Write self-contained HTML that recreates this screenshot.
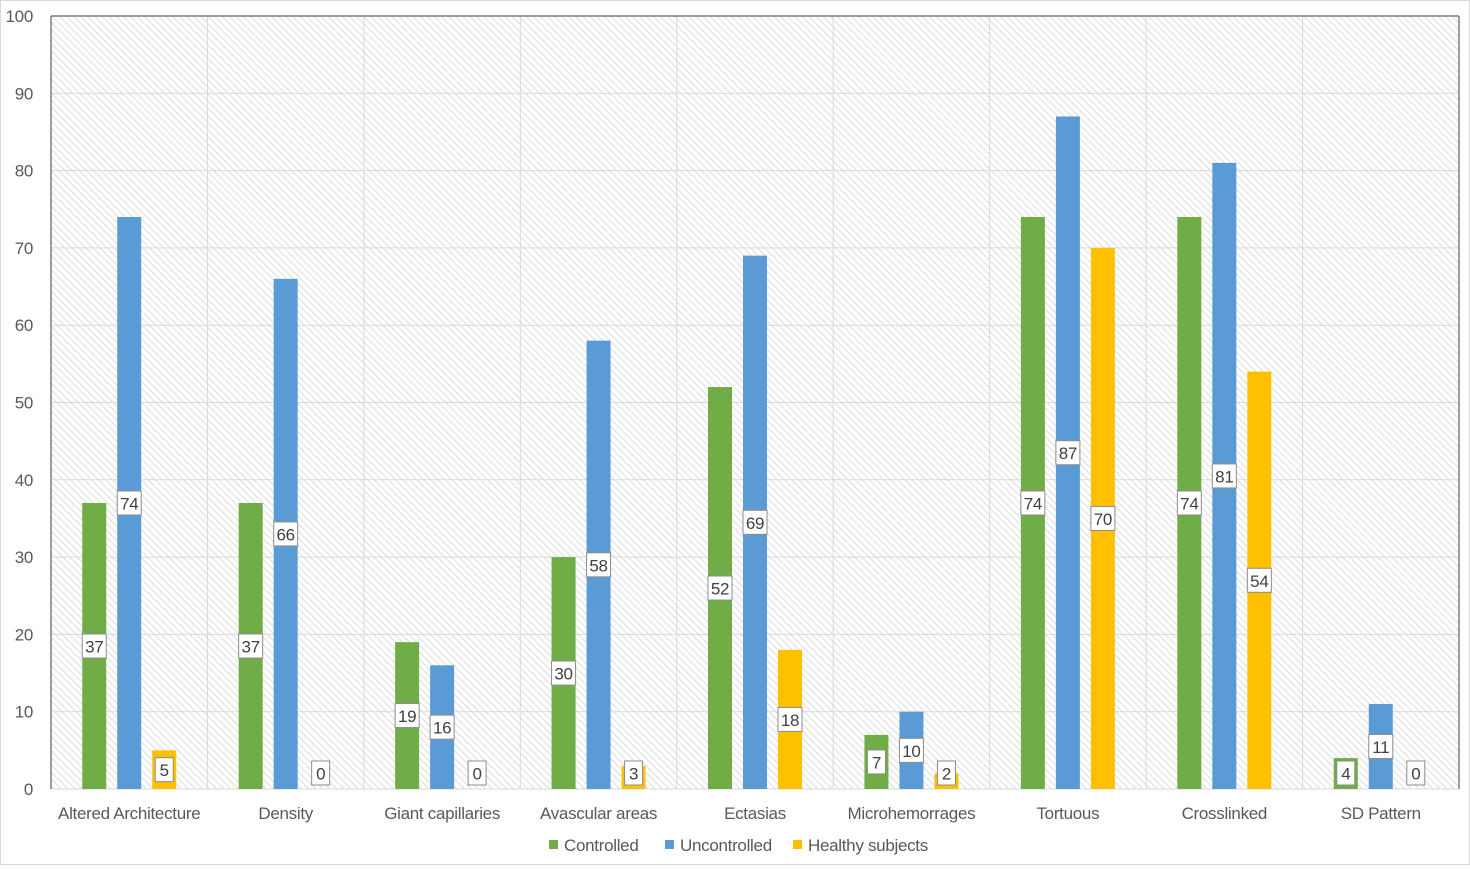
<!DOCTYPE html>
<html><head><meta charset="utf-8">
<style>
html,body{margin:0;padding:0;background:#fff;}
body{width:1470px;height:865px;overflow:hidden;font-family:"Liberation Sans",sans-serif;}
svg text{font-family:"Liberation Sans",sans-serif;letter-spacing:-0.3px;}
</style></head>
<body>
<svg id="chart" width="1470" height="865" xmlns="http://www.w3.org/2000/svg">
<defs>
<pattern id="hatch" patternUnits="userSpaceOnUse" width="5" height="5" patternTransform="rotate(-45)">
<rect width="5" height="5" fill="#ffffff"/>
<line x1="0" y1="0" x2="0" y2="5" stroke="#d4d4d4" stroke-width="1.6"/>
</pattern>
</defs>
<rect x="0.5" y="0.5" width="1469" height="864" fill="#fff" stroke="#d9d9d9"/>
<rect x="51" y="16" width="1408" height="773" fill="url(#hatch)"/>
<g id="grid"></g>
<line x1="51" y1="16" x2="1459" y2="16" stroke="#7f7f7f" stroke-width="1.5"/>
<line x1="1459" y1="16" x2="1459" y2="789" stroke="#7f7f7f" stroke-width="1.5"/>
<g id="bars"></g>
<g id="labels"></g>
<g id="ticks"></g>
<g id="legend"></g>
</svg>
<script>
const categories = ["Altered Architecture","Density","Giant capillaries","Avascular areas","Ectasias","Microhemorrages","Tortuous","Crosslinked","SD Pattern"];
const controlled = [37,37,19,30,52,7,74,74,4];
const uncontrolled = [74,66,16,58,69,10,87,81,11];
const healthy = [5,0,0,3,18,2,70,54,0];
const yTicks = [0,10,20,30,40,50,60,70,80,90,100];
const seriesNames = ["Controlled","Uncontrolled","Healthy subjects"];
const seriesColors = ["#70ad47","#5b9bd5","#ffc000"];

const NS="http://www.w3.org/2000/svg";
const X0=51,X1=1459,Y0=789,Y1=16,YMAX=100;
const band=(X1-X0)/categories.length;
function y(v){return Y0-(v/YMAX)*(Y0-Y1);}
function xc(i){return X0+band*(i+0.5);}
function mk(tag,attrs,parent){const e=document.createElementNS(NS,tag);for(const k in attrs)e.setAttribute(k,attrs[k]);parent.appendChild(e);return e;}
const grid=document.getElementById('grid'),bars=document.getElementById('bars'),labels=document.getElementById('labels'),ticks=document.getElementById('ticks'),legend=document.getElementById('legend');

yTicks.forEach(t=>{
  const l=mk('line',{x1:X0,x2:X1,y1:y(t),y2:y(t),stroke:'#d9d9d9','stroke-width':1},grid);
  
  
  const tx=mk('text',{x:33,y:y(t)+6,'text-anchor':'end','font-size':17,fill:'#595959'},ticks);
  tx.textContent=t;
  
  
});
for(let i=0;i<=categories.length;i++){
  const xx=X0+band*i;
  const l=mk('line',{x1:xx,x2:xx,y1:Y1,y2:Y0,stroke:i===0?'#7f7f7f':'#d9d9d9','stroke-width':i===0?1.5:1},grid);
  
  
}
const series=[controlled,uncontrolled,healthy];
const offsets=[-35,0,35];
const BW=24;
categories.forEach((c,i)=>{
  series.forEach((s,k)=>{
    const v=s[i];
    const cx=xc(i)+offsets[k];
    const r=mk('rect',{x:cx-BW/2,y:y(v),width:BW,height:Y0-y(v),fill:seriesColors[k]},bars);
    
    
    const cy=Math.min((y(v)+Y0)/2,Y0-16);
    const w=String(v).length>1?24:18;
    const g=mk('g',{},labels);
    
    
    mk('rect',{x:cx-w/2,y:cy-12,width:w,height:24,fill:'#fff',stroke:'#8c8c8c','stroke-width':1},g);
    const t=mk('text',{x:cx,y:cy+6.5,'text-anchor':'middle','font-size':17,fill:'#404040'},g);
    t.textContent=v;
  });
  const t=mk('text',{x:xc(i),y:819,'text-anchor':'middle','font-size':17,fill:'#595959'},ticks);
  t.textContent=c;
  
  
});
const legX=[549,665,793];
seriesNames.forEach((n,k)=>{
  const g=mk('g',{},legend);
  
  
  mk('rect',{x:legX[k],y:840,width:9,height:9,fill:seriesColors[k]},g);
  const t=mk('text',{x:legX[k]+15,y:851,'font-size':17,fill:'#595959'},g);
  t.textContent=n;
});
</script>
</body></html>
